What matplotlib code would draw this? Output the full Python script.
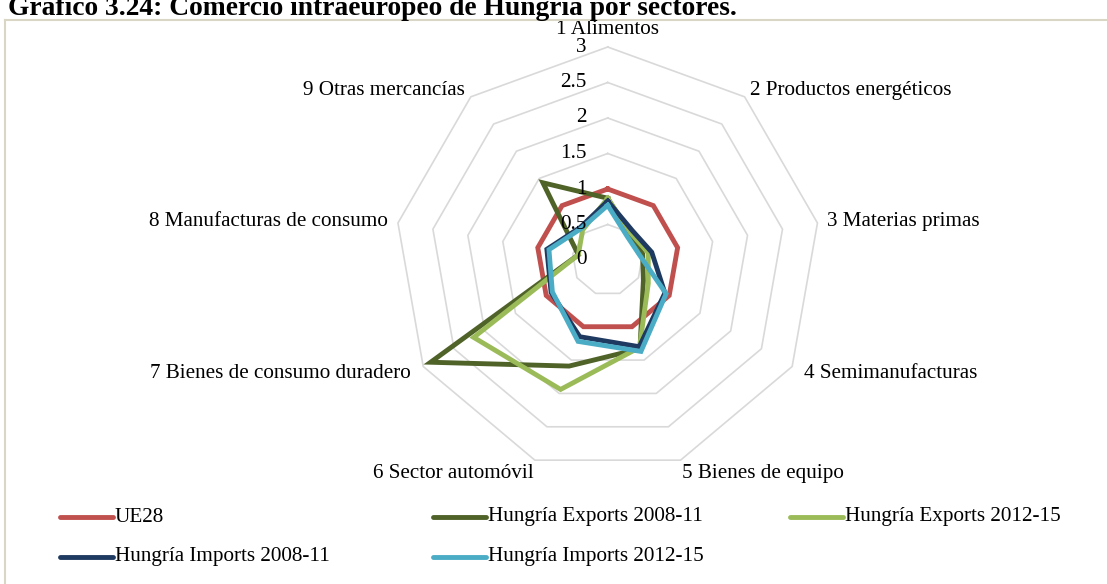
import numpy as np
import matplotlib
matplotlib.use("Agg")
import matplotlib.pyplot as plt
from matplotlib.lines import Line2D
import matplotlib.transforms as mtrans

# ---------------- data ----------------
categories = ["1 Alimentos", "2 Productos energéticos", "3 Materias primas",
              "4 Semimanufacturas", "5 Bienes de equipo", "6 Sector automóvil",
              "7 Bienes de consumo duradero", "8 Manufacturas de consumo",
              "9 Otras mercancías"]
ue28 = [1.0, 1.0, 1.0, 1.0, 1.0, 1.0, 1.0, 1.0, 1.0]
exports_2008_11 = [0.87, 0.48, 0.50, 0.58, 1.33, 1.59, 2.88, 0.42, 1.42]
exports_2012_15 = [0.87, 0.50, 0.58, 0.66, 1.31, 1.94, 2.18, 0.42, 0.55]
imports_2008_11 = [0.83, 0.54, 0.63, 0.93, 1.30, 1.15, 0.92, 0.87, 0.60]
imports_2012_15 = [0.77, 0.43, 0.45, 0.95, 1.37, 1.22, 0.90, 0.84, 0.58]
series_names = ["UE28", "Hungría Exports 2008-11", "Hungría Exports 2012-15",
                "Hungría Imports 2008-11", "Hungría Imports 2012-15"]
r_ticks = [0, 0.5, 1, 1.5, 2, 2.5, 3]
r_tick_labels = ["0", "0.5", "1", "1.5", "2", "2.5", "3"]
title = "Gráfico 3.24: Comercio intraeuropeo de Hungría por sectores."

# ---------------- style ----------------
W, H, DPI = 1107, 584, 100
colors = ["#C0504D", "#4F6228", "#9BBB59", "#1F3A60", "#4BACC6"]
LW = 3.5
FONT = "Liberation Serif"
FS = 15.2
plt.rcParams["font.family"] = [FONT, "DejaVu Serif"]

fig = plt.figure(figsize=(W / DPI, H / DPI), dpi=DPI)
fig.patch.set_facecolor("white")

def fx(px):
    return px / W

def fy(py):
    return 1 - py / H

# radar axes: center (607.7, 260) px, radius 213 px
cx, cy, R = 607.7, 260.0, 213.0
ax = fig.add_axes([fx(cx - R), fy(cy + R), 2 * R / W, 2 * R / H], projection="polar")
ax.set_theta_offset(np.pi / 2)
ax.set_theta_direction(-1)
ax.set_ylim(0, 3)
ax.grid(False)
ax.spines["polar"].set_visible(False)
ax.set_xticks([])
ax.set_yticks([])
ax.patch.set_alpha(0)

n = len(categories)
angles = np.linspace(0, 2 * np.pi, n, endpoint=False)
ang_c = np.append(angles, angles[0])

# polygon gridlines
for t in r_ticks[1:]:
    ax.plot(ang_c, [t] * (n + 1), color="#D9D9D9", lw=1.2, zorder=1, clip_on=False)

# series
all_series = [ue28, exports_2008_11, exports_2012_15, imports_2008_11, imports_2012_15]
for vals, col, name in zip(all_series, colors, series_names):
    v = np.append(vals, vals[0])
    ax.plot(ang_c, v, color=col, lw=LW, solid_joinstyle="miter", zorder=3,
            clip_on=False, label=name)

# radial tick labels
off = mtrans.ScaledTranslation(-21 / DPI, 0, fig.dpi_scale_trans)
for t, lab in zip(r_ticks, r_tick_labels):
    ax.text(0, t, lab, transform=ax.transData + off, ha="right", va="center",
            fontsize=FS, zorder=5)

# category labels
label_pos = [
    (3.25, "center", "center"),
    (3.12, "left", "center"),
    (3.14, "left", "center"),
    (3.2, "left", "center"),
    (3.06, "left", "top"),
    (3.06, "right", "top"),
    (3.2, "right", "center"),
    (3.14, "right", "center"),
    (3.12, "right", "center"),
]
for a, cat, (rr, ha, va) in zip(angles, categories, label_pos):
    ax.text(a, rr, cat, ha=ha, va=va, fontsize=FS, clip_on=False)

# frame of chart area
frame_col = "#D9D6C6"
fig.add_artist(Line2D([fx(5), fx(W + 5)], [fy(20), fy(20)], color=frame_col, lw=1.5,
                      transform=fig.transFigure))
fig.add_artist(Line2D([fx(5), fx(5)], [fy(20), fy(H + 5)], color=frame_col, lw=1.5,
                      transform=fig.transFigure))

# title (partly cut at the top, as in the reference)
fig.text(fx(8), fy(15), title, fontsize=19.8, fontweight="bold", va="baseline",
         ha="left")

# legend (manual layout: 3 columns, 2 rows)
leg_slots = [(60, 517), (433, 517), (790, 517), (60, 557), (433, 557)]
for (lx, ly), col, name in zip(leg_slots, colors, series_names):
    fig.add_artist(Line2D([fx(lx), fx(lx + 53)], [fy(ly), fy(ly)], color=col, lw=LW,
                          solid_capstyle="round", transform=fig.transFigure))
    fig.text(fx(lx + 55), fy(ly), name, fontsize=FS, va="center", ha="left")

fig.savefig("out.png", dpi=DPI)
